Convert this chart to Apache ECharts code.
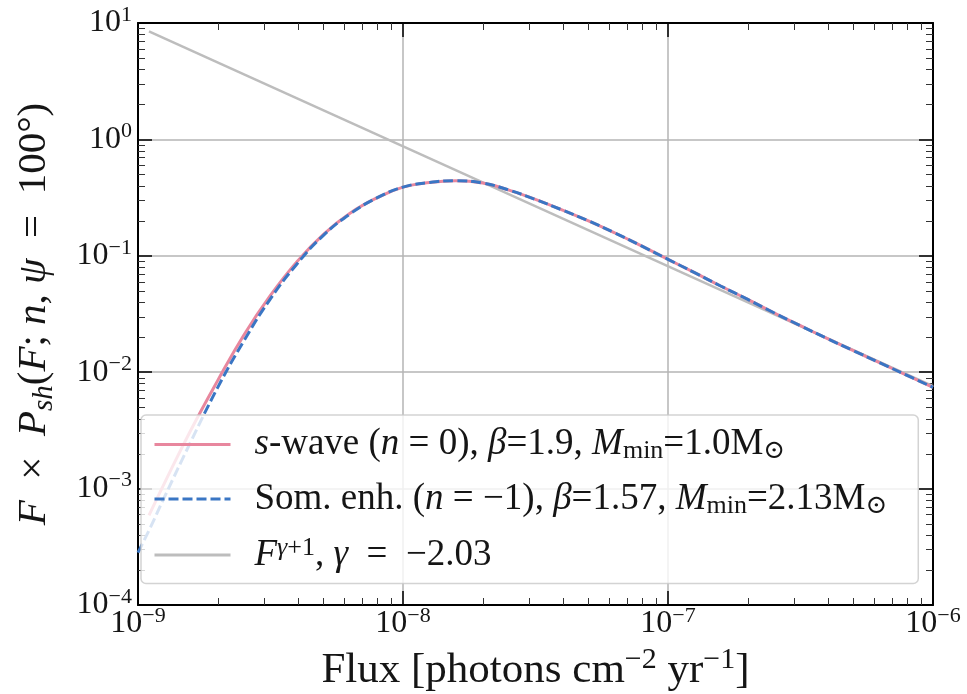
<!DOCTYPE html>
<html>
<head>
<meta charset="utf-8">
<script src="https://cdn.jsdelivr.net/npm/echarts@6/dist/echarts.min.js"></script>
<style>
  html, body { margin: 0; padding: 0; background: #ffffff; }
  #chart { width: 967px; height: 694px; }
</style>
</head>
<body>
<div id="chart"></div>
<script>
// Flux grid (photons cm^-2 yr^-1)
const flux = [
  1.00e-9, 1.10e-9, 1.26e-9, 1.58e-9, 2.00e-9, 2.51e-9, 3.16e-9, 3.98e-9, 5.01e-9, 6.31e-9, 7.94e-9,
  1.00e-8, 1.26e-8, 1.58e-8, 2.00e-8, 2.51e-8, 3.16e-8, 3.98e-8, 5.01e-8, 6.31e-8, 7.94e-8,
  1.00e-7, 1.26e-7, 1.58e-7, 2.00e-7, 2.51e-7, 3.16e-7, 3.98e-7, 5.01e-7, 6.31e-7, 7.94e-7,
  1.00e-6
];
// F x P_sh for the s-wave model (no value at the first flux point)
const sWave = [
  null, 5.89e-4, 1.12e-3, 3.16e-3, 8.51e-3, 2.09e-2, 4.57e-2, 8.91e-2, 0.153, 0.232, 0.313,
  0.389, 0.427, 0.442, 0.422, 0.367, 0.305, 0.248, 0.1995, 0.157, 0.1216,
  0.0933, 0.0716, 0.0550, 0.0422, 0.0324, 0.0251, 0.0195, 0.01531, 0.01202, 0.00944,
  0.00741
];
// F x P_sh for the Sommerfeld-enhanced model
const somEnh = [
  2.82e-4, 4.37e-4, 8.51e-4, 2.51e-3, 7.41e-3, 1.86e-2, 4.27e-2, 8.51e-2, 0.150, 0.229, 0.313,
  0.389, 0.427, 0.442, 0.422, 0.367, 0.305, 0.248, 0.1995, 0.157, 0.1216,
  0.0933, 0.0716, 0.0550, 0.0422, 0.0324, 0.0251, 0.0195, 0.01531, 0.01202, 0.00944,
  0.00741
];
// Power-law reference line F^(gamma+1), end points
const powerFlux = [1.1e-9, 1.0e-6];
const powerVals = [8.46, 7.59e-3];

// Axis decades (tick label exponents)
const xTickExps = [-9, -8, -7, -6];
const yTickExps = [-4, -3, -2, -1, 0, 1];
const minorMultiples = [2, 3, 4, 5, 6, 7, 8, 9];

const seriesNames = ['swave', 'somenh', 'power'];
const legendLabels = [
  '{i|s}{r|-wave (}{i|n}{r| = 0), }{i|β}{r|=1.9, }{i|M}{sub|min}{r|=1.0M}{sub|⊙}',
  '{r|Som. enh. (}{i|n}{r| = −1), }{i|β}{r|=1.57, }{i|M}{sub|min}{r|=2.13M}{sub|⊙}',
  '{i|F}{supi|γ}{sup|+1}{r|, }{i|γ}{r|  =  −2.03}'
];
const xTitle = '{r|Flux [photons cm}{sup|−2}{r| yr}{sup|−1}{r|]}';
const yTitle = '{i|F}{r|  ×  }{i|P}{subi|sh}{r|(}{i|F}{r|; }{i|n}{r|, }{i|ψ}{r|  =  100°)}';

const X_MIN = Math.pow(10, xTickExps[0]);
const X_MAX = Math.pow(10, xTickExps[xTickExps.length - 1]);
const Y_MIN = Math.pow(10, yTickExps[0]);
const Y_MAX = Math.pow(10, yTickExps[yTickExps.length - 1]);

const FONT = '"Liberation Serif", "DejaVu Serif", serif';
const INK = '#151515';
const PINK = '#e8879e';
const BLUE = '#3a76c4';
const GREY = '#bdbdbd';

function richStyles(size, lh) {
  const sub = Math.round(size * 0.7);
  return {
    r: { fontFamily: FONT, fontSize: size, lineHeight: lh, color: INK },
    i: { fontFamily: FONT, fontSize: size, lineHeight: lh, fontStyle: 'italic', color: INK },
    sub: { fontFamily: FONT, fontSize: sub, lineHeight: Math.round(lh * 0.72), verticalAlign: 'bottom', color: INK },
    subi: { fontFamily: FONT, fontSize: sub, lineHeight: Math.round(lh * 0.72), verticalAlign: 'bottom', fontStyle: 'italic', color: INK },
    sup: { fontFamily: FONT, fontSize: sub, lineHeight: Math.round(lh * 0.5), verticalAlign: 'top', color: INK },
    supi: { fontFamily: FONT, fontSize: sub, lineHeight: Math.round(lh * 0.5), verticalAlign: 'top', fontStyle: 'italic', color: INK }
  };
}

function decadeLabel(v, exps) {
  const e = Math.round(Math.log10(v));
  if (exps.indexOf(e) < 0) return '';
  const s = e < 0 ? '−' + (-e) : String(e);
  return '{b|10}{s|' + s + '}';
}
const tickRich = {
  b: { fontFamily: FONT, fontSize: 32, lineHeight: 38, color: INK },
  s: { fontFamily: FONT, fontSize: 22, lineHeight: 20, verticalAlign: 'top', color: INK }
};

function pairs(xs, ys) {
  const out = [];
  for (let i = 0; i < xs.length; i++) if (ys[i] != null) out.push([xs[i], ys[i]]);
  return out;
}

// Minor tick positions between decades
const xMinor = [];
for (let k = 0; k < xTickExps.length - 1; k++)
  minorMultiples.forEach(m => xMinor.push([m * Math.pow(10, xTickExps[k]), Y_MIN]));
const yMinor = [];
for (let k = 0; k < yTickExps.length - 1; k++)
  minorMultiples.forEach(m => yMinor.push([X_MIN, m * Math.pow(10, yTickExps[k])]));

const MINOR_LEN = 7;
const MINOR_STYLE = { stroke: '#333', lineWidth: 1 };

function xMinorItem(params, api) {
  const v = api.value(0);
  const b = api.coord([v, Y_MIN]);
  const t = api.coord([v, Y_MAX]);
  const x = Math.round(b[0]) + 0.5;
  return { type: 'group', children: [
    { type: 'line', shape: { x1: x, y1: b[1], x2: x, y2: b[1] - MINOR_LEN }, style: MINOR_STYLE },
    { type: 'line', shape: { x1: x, y1: t[1], x2: x, y2: t[1] + MINOR_LEN }, style: MINOR_STYLE }
  ]};
}
function yMinorItem(params, api) {
  const v = api.value(1);
  const l = api.coord([X_MIN, v]);
  const r = api.coord([X_MAX, v]);
  const y = Math.round(l[1]) + 0.5;
  return { type: 'group', children: [
    { type: 'line', shape: { x1: l[0], y1: y, x2: l[0] + MINOR_LEN, y2: y }, style: MINOR_STYLE },
    { type: 'line', shape: { x1: r[0], y1: y, x2: r[0] - MINOR_LEN, y2: y }, style: MINOR_STYLE }
  ]};
}

const axisLineStyle = { color: '#000', width: 2 };
const majorTick = { show: true, inside: true, length: 14, lineStyle: { color: '#000', width: 1.5 } };
const hiddenMarker = { opacity: 0 };

const chart = echarts.init(document.getElementById('chart'), null, { renderer: 'canvas' });
chart.setOption({
  backgroundColor: '#ffffff',
  animation: false,
  grid: { left: 138, right: 34, top: 23, bottom: 89, containLabel: false, outerBoundsMode: 'none' },
  xAxis: [
    {
      type: 'log', logBase: 10, min: X_MIN, max: X_MAX, position: 'bottom',
      axisLine: { show: true, lineStyle: axisLineStyle },
      axisTick: majorTick,
      axisLabel: {
        show: true, margin: 0, showMinLabel: true, showMaxLabel: true,
        formatter: v => decadeLabel(v, xTickExps), rich: tickRich
      },
      splitLine: { show: true, lineStyle: { color: '#b5b5b5', width: 1.5 } },
      name: xTitle, nameLocation: 'middle', nameGap: 28,
      nameTextStyle: { rich: richStyles(43, 52) }
    },
    {
      type: 'log', logBase: 10, min: X_MIN, max: X_MAX, position: 'top',
      axisLine: { show: true, lineStyle: axisLineStyle },
      axisTick: majorTick, axisLabel: { show: false }, splitLine: { show: false }
    }
  ],
  yAxis: [
    {
      type: 'log', logBase: 10, min: Y_MIN, max: Y_MAX, position: 'left',
      axisLine: { show: true, lineStyle: axisLineStyle },
      axisTick: majorTick,
      axisLabel: {
        show: true, margin: 6, showMinLabel: true, showMaxLabel: true,
        formatter: v => decadeLabel(v, yTickExps), rich: tickRich
      },
      splitLine: { show: true, lineStyle: { color: '#b5b5b5', width: 1.5 } },
      name: yTitle, nameLocation: 'middle', nameRotate: 90, nameGap: 79,
      nameTextStyle: { rich: richStyles(41, 50) }
    },
    {
      type: 'log', logBase: 10, min: Y_MIN, max: Y_MAX, position: 'right',
      axisLine: { show: true, lineStyle: axisLineStyle },
      axisTick: majorTick, axisLabel: { show: false }, splitLine: { show: false }
    }
  ],
  legend: {
    orient: 'vertical', left: 141, top: 415, z: 10,
    selectedMode: false,
    padding: [11, 31, 10, 12],
    itemGap: 16, itemWidth: 76, itemHeight: 40,
    backgroundColor: 'rgba(255,255,255,0.8)',
    borderColor: 'rgba(200,200,200,0.8)', borderWidth: 1.5, borderRadius: 5,
    data: [
      { name: seriesNames[0], lineStyle: { width: 3 }, itemStyle: hiddenMarker },
      { name: seriesNames[1], lineStyle: { width: 3 }, itemStyle: hiddenMarker },
      { name: seriesNames[2], lineStyle: { width: 3 }, itemStyle: hiddenMarker }
    ],
    formatter: name => legendLabels[seriesNames.indexOf(name)],
    textStyle: { padding: [0, 0, 0, 19], rich: richStyles(37, 40) }
  },
  series: [
    {
      name: seriesNames[2], type: 'line', z: 2, symbol: 'none', silent: true,
      data: pairs(powerFlux, powerVals),
      lineStyle: { color: GREY, width: 2.5 }, itemStyle: { color: GREY }
    },
    {
      name: seriesNames[0], type: 'line', z: 3, symbol: 'none', smooth: 0.45, silent: true,
      data: pairs(flux, sWave),
      lineStyle: { color: PINK, width: 3 }, itemStyle: { color: PINK }
    },
    {
      name: seriesNames[1], type: 'line', z: 4, symbol: 'none', smooth: 0.45, silent: true,
      data: pairs(flux, somEnh),
      lineStyle: { color: BLUE, width: 3, type: [10, 4] }, itemStyle: { color: BLUE }
    },
    {
      type: 'custom', name: 'xminor', silent: true, z: 1, clip: false,
      renderItem: xMinorItem, data: xMinor
    },
    {
      type: 'custom', name: 'yminor', silent: true, z: 1, clip: false,
      renderItem: yMinorItem, data: yMinor
    }
  ]
});
</script>
</body>
</html>
